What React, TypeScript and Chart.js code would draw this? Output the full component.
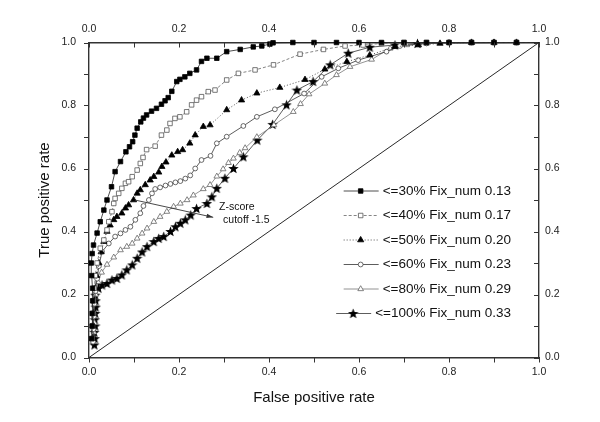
import React, { useEffect, useRef } from 'react';
import { Chart, registerables } from 'chart.js';

Chart.register(...registerables);

// ---------- data ----------
const seriesLabels = [
  '<=30% Fix_num 0.13',
  '<=40% Fix_num 0.17',
  '<=50% Fix_num 0.20',
  '<=60% Fix_num 0.23',
  '<=80% Fix_num 0.29',
  '<=100% Fix_num 0.33',
];

const tickLabels = ['0.0', '0.2', '0.4', '0.6', '0.8', '1.0'];

const fpr30 = [0.006, 0.007, 0.007, 0.008, 0.008, 0.006, 0.005, 0.007, 0.010, 0.018, 0.025, 0.033, 0.040, 0.050, 0.058, 0.070, 0.082, 0.090, 0.097, 0.102, 0.107, 0.115, 0.121, 0.128, 0.139, 0.150, 0.161, 0.169, 0.176, 0.184, 0.195, 0.202, 0.213, 0.224, 0.239, 0.250, 0.262, 0.284, 0.306, 0.336, 0.365, 0.384, 0.402, 0.409, 0.453, 0.50, 0.55, 0.60, 0.65, 0.70, 0.75, 0.80, 0.85, 0.90, 0.95, 1.0];
const tpr30 = [0.06, 0.10, 0.14, 0.18, 0.22, 0.26, 0.30, 0.33, 0.357, 0.395, 0.431, 0.468, 0.500, 0.542, 0.590, 0.622, 0.653, 0.669, 0.685, 0.706, 0.728, 0.748, 0.760, 0.770, 0.782, 0.791, 0.804, 0.815, 0.825, 0.845, 0.876, 0.883, 0.891, 0.902, 0.913, 0.940, 0.950, 0.950, 0.971, 0.978, 0.986, 0.989, 0.995, 0.999, 1, 1, 1, 1, 1, 1, 1, 1, 1, 1, 1, 1];

const fpr40 = [0.007, 0.008, 0.009, 0.010, 0.012, 0.014, 0.018, 0.025, 0.033, 0.040, 0.044, 0.051, 0.055, 0.058, 0.066, 0.073, 0.081, 0.088, 0.096, 0.107, 0.114, 0.120, 0.128, 0.147, 0.161, 0.173, 0.180, 0.191, 0.202, 0.217, 0.228, 0.239, 0.250, 0.265, 0.280, 0.306, 0.332, 0.369, 0.410, 0.469, 0.521, 0.569, 0.609, 0.65, 0.70, 0.75, 0.80, 0.85, 0.90, 0.95, 1.0];
const tpr40 = [0.06, 0.10, 0.14, 0.18, 0.22, 0.26, 0.30, 0.347, 0.373, 0.405, 0.431, 0.463, 0.489, 0.505, 0.521, 0.537, 0.553, 0.558, 0.574, 0.595, 0.616, 0.635, 0.660, 0.671, 0.706, 0.722, 0.743, 0.759, 0.764, 0.780, 0.802, 0.817, 0.828, 0.844, 0.849, 0.881, 0.902, 0.913, 0.929, 0.963, 0.978, 0.989, 0.992, 0.997, 1, 1, 1, 1, 1, 1, 1];

const fpr50 = [0.008, 0.009, 0.010, 0.012, 0.014, 0.017, 0.022, 0.027, 0.033, 0.040, 0.047, 0.055, 0.062, 0.073, 0.081, 0.088, 0.099, 0.107, 0.114, 0.125, 0.136, 0.144, 0.155, 0.162, 0.171, 0.184, 0.197, 0.208, 0.224, 0.236, 0.254, 0.269, 0.306, 0.339, 0.373, 0.424, 0.480, 0.524, 0.573, 0.624, 0.680, 0.732, 0.78, 0.85, 0.90, 0.95, 1.0];
const tpr50 = [0.06, 0.10, 0.14, 0.18, 0.22, 0.26, 0.30, 0.335, 0.368, 0.400, 0.420, 0.437, 0.447, 0.458, 0.474, 0.484, 0.500, 0.521, 0.532, 0.548, 0.563, 0.574, 0.588, 0.606, 0.620, 0.642, 0.653, 0.659, 0.680, 0.706, 0.733, 0.738, 0.786, 0.817, 0.839, 0.857, 0.882, 0.915, 0.939, 0.960, 0.987, 0.992, 0.997, 1, 1, 1, 1];

const fpr60 = [0.009, 0.010, 0.011, 0.012, 0.014, 0.018, 0.022, 0.029, 0.044, 0.058, 0.070, 0.081, 0.092, 0.103, 0.114, 0.121, 0.133, 0.140, 0.147, 0.158, 0.170, 0.181, 0.192, 0.203, 0.214, 0.225, 0.236, 0.250, 0.270, 0.284, 0.306, 0.343, 0.373, 0.413, 0.478, 0.517, 0.554, 0.598, 0.661, 0.691, 0.75, 0.80, 0.85, 0.90, 0.95, 1.0];
const tpr60 = [0.05, 0.09, 0.13, 0.17, 0.21, 0.25, 0.29, 0.336, 0.362, 0.384, 0.394, 0.405, 0.415, 0.437, 0.458, 0.481, 0.500, 0.521, 0.535, 0.540, 0.546, 0.551, 0.556, 0.560, 0.568, 0.578, 0.600, 0.627, 0.640, 0.680, 0.701, 0.735, 0.764, 0.788, 0.838, 0.891, 0.918, 0.944, 0.971, 0.989, 0.997, 1, 1, 1, 1, 1];

const fpr80 = [0.010, 0.011, 0.012, 0.011, 0.013, 0.015, 0.020, 0.028, 0.040, 0.055, 0.070, 0.084, 0.096, 0.107, 0.118, 0.129, 0.144, 0.158, 0.173, 0.188, 0.203, 0.218, 0.232, 0.254, 0.269, 0.284, 0.298, 0.310, 0.321, 0.335, 0.347, 0.373, 0.411, 0.454, 0.470, 0.489, 0.524, 0.550, 0.580, 0.628, 0.669, 0.706, 0.75, 0.80, 0.85, 0.90, 0.95, 1.0];
const tpr80 = [0.05, 0.08, 0.11, 0.14, 0.17, 0.20, 0.24, 0.27, 0.295, 0.318, 0.341, 0.352, 0.362, 0.378, 0.394, 0.410, 0.431, 0.447, 0.463, 0.479, 0.489, 0.500, 0.515, 0.535, 0.548, 0.575, 0.598, 0.618, 0.632, 0.650, 0.665, 0.700, 0.738, 0.780, 0.805, 0.836, 0.870, 0.897, 0.923, 0.946, 0.981, 0.992, 0.997, 1, 1, 1, 1, 1];

const fpr100 = [0.012, 0.013, 0.012, 0.014, 0.013, 0.014, 0.015, 0.015, 0.014, 0.021, 0.029, 0.040, 0.051, 0.062, 0.073, 0.084, 0.096, 0.107, 0.118, 0.129, 0.144, 0.155, 0.166, 0.181, 0.192, 0.203, 0.214, 0.226, 0.239, 0.262, 0.273, 0.284, 0.302, 0.321, 0.343, 0.374, 0.408, 0.439, 0.462, 0.498, 0.536, 0.576, 0.624, 0.680, 0.73, 1.0];
const tpr100 = [0.04, 0.06, 0.08, 0.10, 0.12, 0.14, 0.16, 0.18, 0.198, 0.220, 0.230, 0.235, 0.246, 0.251, 0.262, 0.278, 0.294, 0.315, 0.335, 0.352, 0.368, 0.378, 0.384, 0.400, 0.415, 0.426, 0.437, 0.452, 0.473, 0.489, 0.510, 0.537, 0.569, 0.600, 0.637, 0.690, 0.740, 0.802, 0.849, 0.876, 0.929, 0.966, 0.985, 0.992, 0.997, 1];

const diagonalX = [0, 1];
const diagonalY = [0, 1];

const annotationLines = ['Z-score', 'cutoff -1.5'];
const arrowFrom = [0.102, 0.5];
const arrowTo = [0.276, 0.445];

// ---------- helpers ----------
const FONT = '"Liberation Sans", Arial, Helvetica, sans-serif';

function makeStar(size: number, color: string): HTMLCanvasElement {
  const c = document.createElement('canvas');
  c.width = size;
  c.height = size;
  const g = c.getContext('2d')!;
  const cx = size / 2;
  const cy = size / 2 + 0.4;
  const R = size / 2;
  const r = R * 0.42;
  g.beginPath();
  for (let i = 0; i < 10; i++) {
    const ang = -Math.PI / 2 + (i * Math.PI) / 5;
    const rad = i % 2 === 0 ? R : r;
    const px = cx + rad * Math.cos(ang);
    const py = cy + rad * Math.sin(ang);
    if (i === 0) g.moveTo(px, py);
    else g.lineTo(px, py);
  }
  g.closePath();
  g.fillStyle = color;
  g.fill();
  return c;
}

function zip(xs: number[], ys: number[]) {
  return xs.map((x, i) => ({ x, y: ys[i] }));
}

export default function App() {
  const ref = useRef<HTMLCanvasElement | null>(null);

  useEffect(() => {
    const canvas = ref.current;
    if (!canvas) return;
    const star = makeStar(11, '#000');

    const styles: any[] = [
      { ps: 'rect', r: 3.2, fill: '#000', stroke: '#000', line: '#222', dash: [], lw: 0.8 },
      { ps: 'rect', r: 3.2, fill: '#fff', stroke: '#555', line: '#666', dash: [3, 2], lw: 0.8 },
      { ps: 'triangle', r: 3.6, fill: '#000', stroke: '#000', line: '#444', dash: [1, 2], lw: 0.9 },
      { ps: 'circle', r: 2.4, fill: '#fff', stroke: '#444', line: '#333', dash: [], lw: 0.8 },
      { ps: 'triangle', r: 3.3, fill: '#fff', stroke: '#666', line: '#777', dash: [], lw: 0.8 },
      { ps: star, r: 5, fill: '#000', stroke: '#000', line: '#333', dash: [], lw: 0.8 },
    ];
    const seriesData = [
      zip(fpr30, tpr30),
      zip(fpr40, tpr40),
      zip(fpr50, tpr50),
      zip(fpr60, tpr60),
      zip(fpr80, tpr80),
      zip(fpr100, tpr100),
    ];

    const datasets: any[] = [
      {
        label: 'diagonal',
        data: zip(diagonalX, diagonalY),
        showLine: true,
        borderColor: '#111',
        borderWidth: 0.9,
        pointRadius: 0,
        clip: false,
      },
    ];
    seriesData.forEach((d, i) => {
      const s = styles[i];
      datasets.push({
        label: seriesLabels[i],
        data: d,
        showLine: true,
        borderColor: s.line,
        borderWidth: s.lw,
        borderDash: s.dash,
        pointStyle: s.ps,
        pointRadius: (c: any) => (c.raw && c.raw.x >= 1 ? 0 : s.r),
        pointBackgroundColor: s.fill,
        pointBorderColor: s.stroke,
        pointBorderWidth: 0.8,
        clip: false,
      });
    });

    const tickCb = (v: any) => {
      const idx = Math.round(Number(v) * 10);
      return idx % 2 === 0 ? tickLabels[idx / 2] : '';
    };
    const tickFont = { family: FONT, size: 10.5 };
    const axisBase = (pos: string, pad: number, fit: (s: any) => void) => ({
      type: 'linear',
      position: pos,
      min: 0,
      max: 1,
      ticks: {
        stepSize: 0.1,
        autoSkip: false,
        maxRotation: 0,
        callback: tickCb,
        font: tickFont,
        color: '#222',
        padding: pad,
      },
      grid: { display: false, drawTicks: false },
      border: { display: true, color: '#333', width: 1.4 },
      afterFit: fit,
    });

    const drawMarker = (ctx: CanvasRenderingContext2D, s: any, x: number, y: number) => {
      ctx.save();
      ctx.setLineDash([]);
      ctx.fillStyle = s.fill;
      ctx.strokeStyle = s.stroke;
      ctx.lineWidth = 0.8;
      if (s.ps instanceof HTMLCanvasElement) {
        ctx.drawImage(s.ps, x - s.ps.width / 2, y - s.ps.height / 2);
      } else if (s.ps === 'rect') {
        const h = Math.SQRT1_2 * s.r;
        ctx.beginPath();
        ctx.rect(x - h, y - h, 2 * h, 2 * h);
        ctx.fill();
        ctx.stroke();
      } else if (s.ps === 'circle') {
        ctx.beginPath();
        ctx.arc(x, y, s.r, 0, Math.PI * 2);
        ctx.fill();
        ctx.stroke();
      } else if (s.ps === 'triangle') {
        const r = s.r;
        ctx.beginPath();
        ctx.moveTo(x, y - r);
        ctx.lineTo(x + r * Math.cos(Math.PI / 6), y + r * 0.5);
        ctx.lineTo(x - r * Math.cos(Math.PI / 6), y + r * 0.5);
        ctx.closePath();
        ctx.fill();
        ctx.stroke();
      }
      ctx.restore();
    };

    const decor = {
      id: 'decor',
      afterDraw(chart: any) {
        const { ctx, chartArea } = chart;
        const { left, right, top, bottom } = chartArea;
        const xs = chart.scales.x;
        const ys = chart.scales.y;
        ctx.save();
        // tick marks
        ctx.strokeStyle = '#333';
        ctx.lineWidth = 1;
        ctx.beginPath();
        for (let i = 0; i <= 10; i++) {
          const v = i / 10;
          const px = Math.round(xs.getPixelForValue(v)) + 0.5;
          ctx.moveTo(px, bottom);
          ctx.lineTo(px, bottom + 5);
          ctx.moveTo(px, top);
          ctx.lineTo(px, top + 5);
          const py = Math.round(ys.getPixelForValue(v)) + 0.5;
          ctx.moveTo(left - 5, py);
          ctx.lineTo(left, py);
          ctx.moveTo(right - 5, py);
          ctx.lineTo(right, py);
        }
        ctx.stroke();

        // axis titles
        ctx.fillStyle = '#111';
        ctx.font = `15px ${FONT}`;
        ctx.textAlign = 'center';
        ctx.textBaseline = 'middle';
        ctx.fillText('False positive rate', (left + right) / 2, 398);
        ctx.save();
        ctx.translate(45, (top + bottom) / 2);
        ctx.rotate(-Math.PI / 2);
        ctx.fillText('True positive rate', 0, 0);
        ctx.restore();

        // annotation arrow
        const ax0 = xs.getPixelForValue(arrowFrom[0]);
        const ay0 = ys.getPixelForValue(arrowFrom[1]);
        const ax1 = xs.getPixelForValue(arrowTo[0]);
        const ay1 = ys.getPixelForValue(arrowTo[1]);
        ctx.strokeStyle = '#333';
        ctx.fillStyle = '#333';
        ctx.lineWidth = 0.9;
        ctx.beginPath();
        ctx.moveTo(ax0, ay0);
        ctx.lineTo(ax1, ay1);
        ctx.stroke();
        const ang = Math.atan2(ay1 - ay0, ax1 - ax0);
        ctx.beginPath();
        ctx.moveTo(ax1, ay1);
        ctx.lineTo(ax1 - 7 * Math.cos(ang - 0.3), ay1 - 7 * Math.sin(ang - 0.3));
        ctx.lineTo(ax1 - 7 * Math.cos(ang + 0.3), ay1 - 7 * Math.sin(ang + 0.3));
        ctx.closePath();
        ctx.fill();

        ctx.fillStyle = '#111';
        ctx.font = `10.5px ${FONT}`;
        ctx.textAlign = 'left';
        ctx.fillText(annotationLines[0], xs.getPixelForValue(0.289), ys.getPixelForValue(0.479));
        ctx.fillText(annotationLines[1], xs.getPixelForValue(0.298), ys.getPixelForValue(0.437));

        // legend
        const rowY = [191, 215.5, 240, 264.5, 289, 313.5];
        const textRight = 511;
        ctx.font = `13.5px ${FONT}`;
        seriesLabels.forEach((lab, i) => {
          const s = styles[i];
          const y = rowY[i];
          const w = ctx.measureText(lab).width;
          const tl = textRight - w;
          const cx = tl - 22;
          ctx.save();
          ctx.strokeStyle = s.line;
          ctx.lineWidth = s.lw;
          ctx.setLineDash(s.dash);
          ctx.beginPath();
          ctx.moveTo(cx - 17, y);
          ctx.lineTo(cx + 18, y);
          ctx.stroke();
          ctx.restore();
          drawMarker(ctx, s, cx, y);
          ctx.fillStyle = '#111';
          ctx.textAlign = 'left';
          ctx.textBaseline = 'middle';
          ctx.fillText(lab, tl, y);
        });
        ctx.restore();
      },
    };

    const chart = new Chart(canvas, {
      type: 'scatter',
      data: { datasets },
      options: {
        animation: false,
        responsive: false,
        maintainAspectRatio: false,
        layout: { padding: 0 },
        plugins: {
          legend: { display: false },
          tooltip: { enabled: false },
        },
        scales: {
          x: axisBase('bottom', 8, (s: any) => { s.height = 64.5; }),
          x2: axisBase('top', 7, (s: any) => { s.height = 42.5; }),
          y: axisBase('left', 13, (s: any) => { s.width = 89; }),
          y2: axisBase('right', 6, (s: any) => { s.width = 61; }),
        } as any,
      },
      plugins: [decor],
    } as any);

    return () => {
      chart.destroy();
    };
  }, []);

  return (
    <div style={{ position: 'fixed', left: 0, top: 0, width: 600, height: 422, background: '#fff' }}>
      <canvas ref={ref} width={600} height={422} style={{ width: 600, height: 422, display: 'block' }} />
    </div>
  );
}
